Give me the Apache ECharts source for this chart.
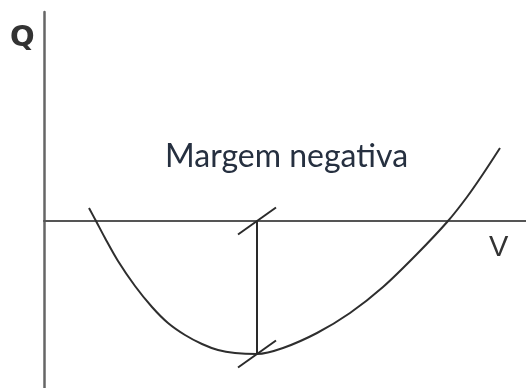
<!DOCTYPE html>
<html>
<head>
<meta charset="utf-8">
<script src="https://cdn.jsdelivr.net/npm/echarts@6/dist/echarts.min.js"></script>
<style>
  html, body { margin: 0; padding: 0; background: #fff; }
  #chart { width: 526px; height: 388px; }
</style>
</head>
<body>
<div id="chart"></div>
<script>
// Cost curve Q(V): dips below the V axis, the gap at the bottom is the negative margin
const curveV = [45, 52, 61, 74, 91, 108, 124, 141, 158, 174, 191, 213, 239, 273, 306, 339, 373, 404, 423, 439, 456];
const curveQ = [13, 0, -17, -40, -65, -86, -102, -114, -123, -129, -132, -133, -127, -112, -92, -66, -33, 0, 24, 47, 73];

// Position of the margin segment (from the axis down to the curve minimum)
const marginV = 213;
const marginTopQ = 0;
const marginBottomQ = -133;

const axisLabels = { q: 'Q', v: 'V' };
const marginLabel = 'Margem negativa';

// Half-length of the slanted end marks, in axis units
const markDx = 19, markDy = 13.5;

const chart = echarts.init(document.getElementById('chart'), null, { renderer: 'canvas' });

const curveData = curveV.map((v, i) => [v, curveQ[i]]);

function slash(v, q) {
  return [[v - markDx, q - markDy], [v + markDx, q + markDy]];
}

const inkLine = { color: '#2a2a2a', width: 2 };

chart.setOption({
  animation: false,
  backgroundColor: '#fff',
  grid: { left: 44, right: 0, top: 12, bottom: 0, containLabel: false },
  xAxis: {
    type: 'value', min: 0, max: 482,
    axisLine: { show: true, onZero: true, lineStyle: { color: '#555', width: 2 } },
    axisTick: { show: false }, axisLabel: { show: false }, splitLine: { show: false }
  },
  yAxis: {
    type: 'value', min: -167, max: 209,
    axisLine: { show: true, onZero: false, lineStyle: { color: '#666', width: 2.5 } },
    axisTick: { show: false }, axisLabel: { show: false }, splitLine: { show: false }
  },
  series: [
    {
      type: 'line', data: curveData, smooth: 0.3, showSymbol: false,
      lineStyle: { color: '#2e2e2e', width: 2 }
    },
    {
      type: 'line', data: [[marginV, marginTopQ], [marginV, marginBottomQ]],
      showSymbol: false, lineStyle: inkLine
    },
    {
      type: 'line', data: slash(marginV, marginTopQ),
      showSymbol: false, lineStyle: inkLine
    },
    {
      type: 'line', data: slash(marginV, marginBottomQ),
      showSymbol: false, lineStyle: inkLine
    }
  ],
  graphic: [
    {
      type: 'text', left: 10, top: 24,
      style: { text: axisLabels.q, font: 'bold 29px "DejaVu Sans", sans-serif', fill: '#333' }
    },
    {
      type: 'text', left: 489, top: 233,
      style: { text: axisLabels.v, font: '29px "Liberation Sans", sans-serif', fill: '#333' }
    },
    {
      type: 'text', left: 165, top: 141,
      style: { text: marginLabel, font: '32px Lato, sans-serif', fill: '#263040' }
    }
  ]
});
</script>
</body>
</html>
